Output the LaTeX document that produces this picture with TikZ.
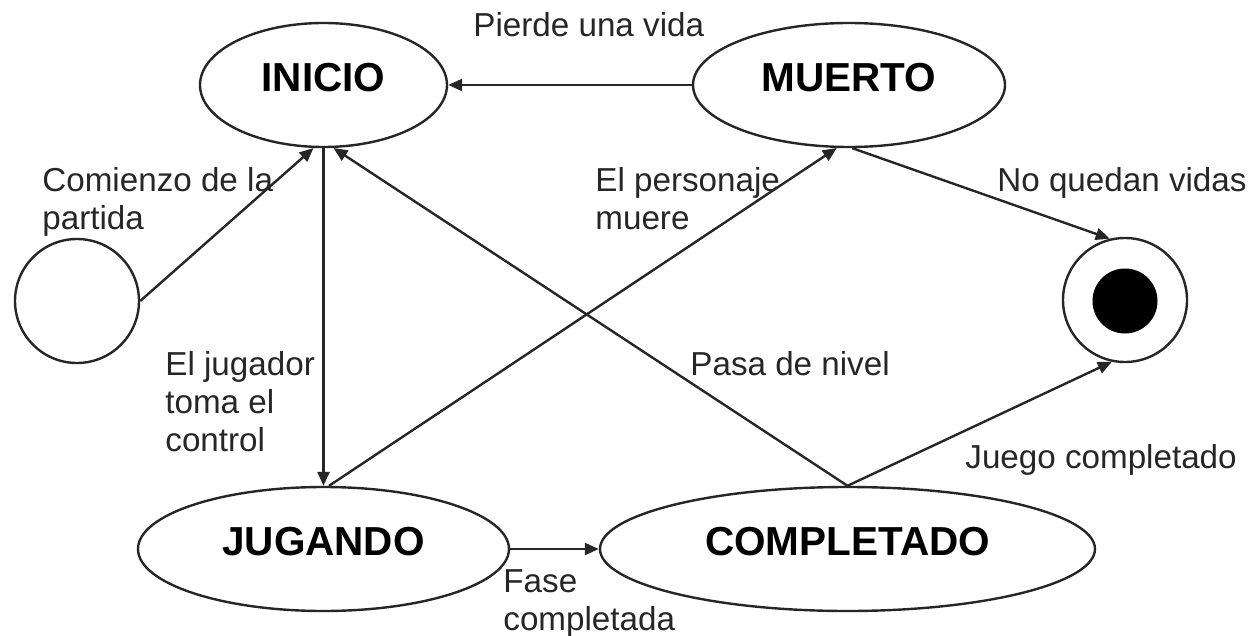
\documentclass[tikz,border=0pt]{standalone}
\usepackage{fontspec}
\setmainfont{Liberation Sans}
\usetikzlibrary{arrows.meta,shapes.geometric}
\begin{document}
\begin{tikzpicture}[x=0.5pt,y=-0.5pt,
 state/.style={ellipse,draw=black!85,line width=1.2pt,inner sep=0pt,minimum height=62pt,
   font=\fontsize{20.25}{24}\selectfont\bfseries,text height=10pt,text depth=3.5pt},
 lbl/.style={anchor=base west,inner sep=0pt,align=left,font=\fontsize{16.6}{19}\selectfont,text=black!85},
 tr/.style={draw=black!85,line width=1.2pt,-{Triangle[length=7pt,width=6pt]}}]
\useasboundingbox (0,0) rectangle (1252,636);
\node[state,minimum width=123.5pt] (inicio) at (323.5,85) {INICIO};
\node[state,minimum width=156pt] (muerto) at (849,85) {MUERTO};
\node[state,minimum width=185.5pt] (jugando) at (323.5,549) {JUGANDO};
\node[state,minimum width=247.5pt] (completado) at (847.5,549) {COMPLETADO};
\node[circle,draw=black!85,line width=1.2pt,minimum size=62pt,inner sep=0pt] (init) at (77,301) {};
\node[circle,draw=black!85,line width=1.2pt,minimum size=62pt,inner sep=0pt] (final) at (1125,300) {};
\node[circle,fill=black,minimum size=32.5pt,inner sep=0pt] (finalin) at (1125,301) {};
\draw[tr] (init.east) -- (inicio.261);
\draw[tr] (inicio.south) -- (jugando.north);
\draw[tr] (jugando.85) -- (muerto.259);
\draw[tr] (muerto.west) -- (inicio.east);
\draw[tr] (muerto.273) -- (final.104);
\draw[tr] (completado.north) -- (inicio.279);
\draw[tr] (completado.north) -- (final.258);
\draw[tr] (jugando.east) -- (completado.west);
\node[lbl] (lpierde) at (473,37) {Pierde una vida};
\node[lbl] (lcomienzo) at (42,230) {Comienzo de la\\partida};
\node[lbl] (lpersonaje) at (595,230) {El personaje\\muere};
\node[lbl] (lnoquedan) at (997,192) {No quedan vidas};
\node[lbl] (ljugador) at (165,451) {El jugador\\toma el\\control};
\node[lbl] (lpasa) at (690,375) {Pasa de nivel};
\node[lbl] (ljuego) at (965,468) {Juego completado};
\node[lbl] (lfase) at (503,630) {Fase\\completada};
\end{tikzpicture}
\end{document}
